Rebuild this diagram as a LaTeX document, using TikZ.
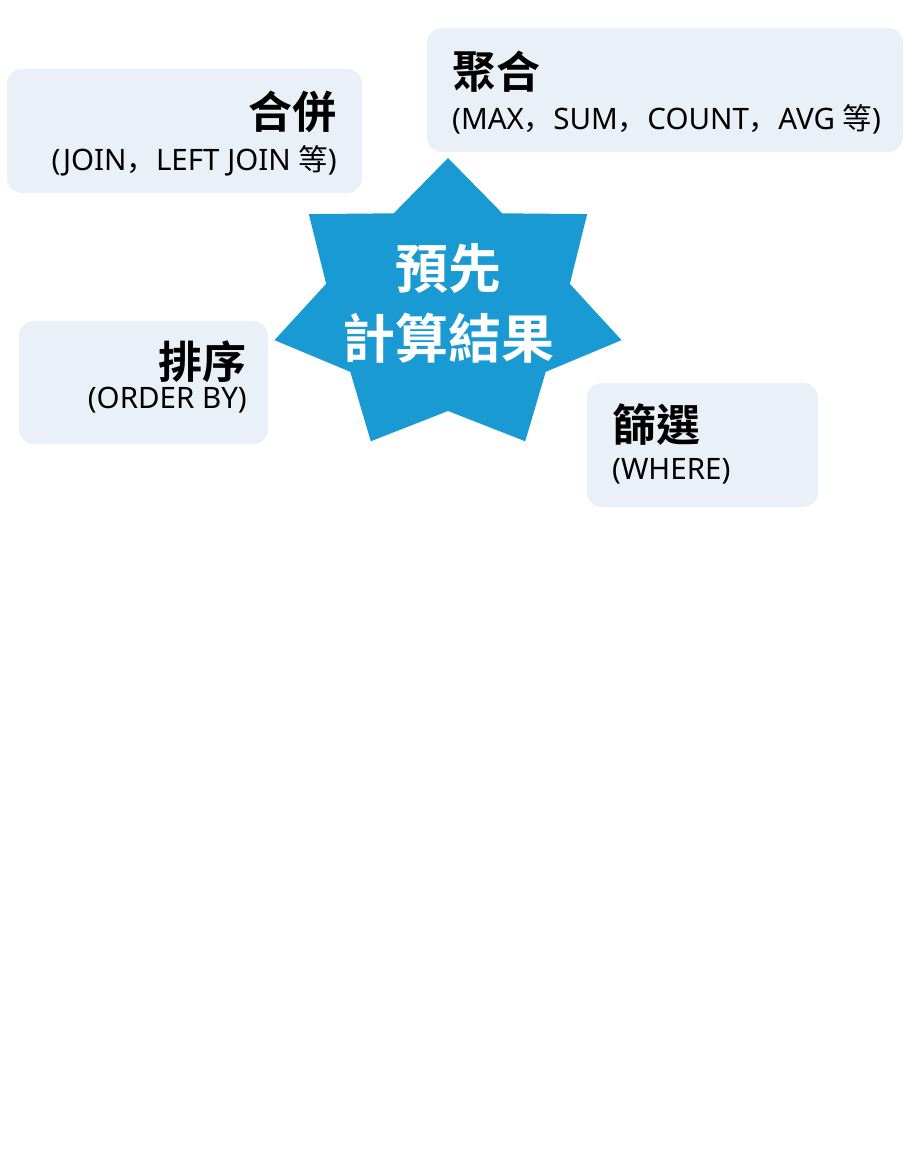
\documentclass[tikz,border=0pt]{standalone}
\usepackage{fontspec}
\setmainfont{Noto Sans}
\newfontfamily\cjkfont{Noto Sans CJK TC}[BoldFont={* Bold}]
\newfontfamily\commafont{Noto Sans CJK SC}
\newcommand\zh[1]{{\cjkfont #1}}
\newcommand\fwcomma{{\commafont ，}}
\usepackage{tikz}
\usepackage{xcolor}
\definecolor{starblue}{RGB}{26, 154, 210}
\definecolor{boxfill}{RGB}{233, 240, 248}
\tikzset{
  infobox/.style={fill=boxfill, rounded corners=15pt, inner sep=0pt},
  headtxt/.style={font=\cjkfont\bfseries\fontsize{44}{48}\selectfont, inner sep=0pt},
  subtxt/.style={font=\fontsize{29.5}{34}\selectfont, inner sep=0pt},
  centertxt/.style={font=\cjkfont\bfseries\fontsize{53}{70}\selectfont, text=white, align=center, inner sep=0pt}
}

\begin{document}
\begin{tikzpicture}[x=1pt,y=-1pt]
\useasboundingbox[fill=white] (0,0) rectangle (908,1166);

\node[infobox, minimum width=355, minimum height=124] (joinbox) at (184.5,131) {};
\node[infobox, minimum width=476, minimum height=124] (aggbox) at (665,90) {};
\node[infobox, minimum width=249, minimum height=123] (sortbox) at (143.5,382.5) {};
\node[infobox, minimum width=231, minimum height=124] (filtbox) at (702.5,445) {};

\fill[starblue, shift={(448,307)}] (270:178 and 149)
  \foreach \i in {1,...,7} { -- ({270+(2*\i-1)*180/7}:125 and 104) -- ({270+2*\i*180/7}:178 and 149) } -- cycle;
\node[centertxt] (core) at (448,303) {預先\\計算結果};

\node[headtxt, anchor=east] (jointitle) at (337,112) {合併};
\node[subtxt, anchor=east] (joinsub) at (337,161) {(JOIN\fwcomma LEFT JOIN \zh{等})};

\node[headtxt, anchor=west] (aggtitle) at (452,72) {聚合};
\node[subtxt, anchor=west] (aggsub) at (452,119) {(MAX\fwcomma SUM\fwcomma COUNT\fwcomma AVG \zh{等})};

\node[headtxt, anchor=east] (sorttitle) at (247,362) {排序};
\node[subtxt, anchor=east] (sortsub) at (247,400) {(ORDER BY)};

\node[headtxt, anchor=west] (filttitle) at (612,425) {篩選};
\node[subtxt, anchor=west] (filtsub) at (612,471) {(WHERE)};

\end{tikzpicture}
\end{document}
